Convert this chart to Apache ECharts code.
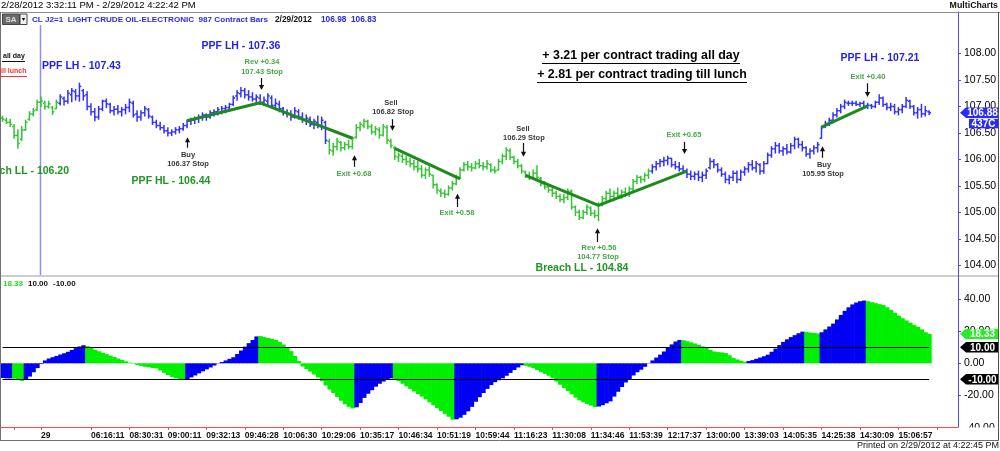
<!DOCTYPE html>
<html><head><meta charset="utf-8">
<script src="https://cdn.jsdelivr.net/npm/echarts@6/dist/echarts.min.js"></script>
<style>html,body{margin:0;padding:0;background:#fff;overflow:hidden}#c{width:1000px;height:451px}</style>
</head><body><div id="c"></div>
<script>
// ---------- DATA ----------
const opens = [106.78,106.74,106.70,106.62,106.45,106.38,106.56,106.76,106.86,106.94,107.08,107.06,107.00,106.98,106.96,107.06,107.15,107.10,107.22,107.28,
107.20,107.30,107.22,107.00,106.90,106.80,106.95,107.10,107.04,106.92,106.95,106.90,106.94,106.98,107.06,106.86,106.80,106.88,106.94,106.80,
106.70,106.64,106.60,106.54,106.50,106.52,106.56,106.58,106.64,106.72,106.74,106.78,106.80,106.84,106.80,106.88,106.90,106.90,106.96,106.98,
107.04,107.20,107.24,107.30,107.22,107.18,107.14,107.16,107.08,107.10,107.16,107.02,107.04,106.96,106.88,106.86,106.80,106.90,106.80,106.74,
106.76,106.66,106.70,106.64,106.70,106.34,106.16,106.24,106.32,106.22,106.28,106.24,106.42,106.60,106.64,106.72,106.62,106.52,106.56,106.46,
106.60,106.34,106.22,106.04,106.06,106.00,105.96,105.92,105.86,105.82,105.70,105.80,105.70,105.52,105.40,105.36,105.34,105.46,105.54,105.66,
105.80,105.90,105.86,105.84,105.92,105.88,105.86,105.90,105.80,105.80,105.96,106.06,106.16,106.04,105.96,105.88,105.76,105.70,105.66,105.74,
105.64,105.54,105.48,105.42,105.36,105.30,105.24,105.28,105.40,105.10,105.00,104.90,105.00,105.08,104.98,104.94,105.14,105.26,105.36,105.30,
105.36,105.32,105.38,105.34,105.44,105.58,105.66,105.62,105.70,105.78,105.86,105.92,105.96,105.98,106.02,105.90,105.86,105.82,105.78,105.72,
105.68,105.72,105.66,105.70,105.84,105.96,105.90,105.80,105.72,105.62,105.66,105.74,105.62,105.76,105.82,105.90,105.84,105.90,105.78,105.92,
106.08,106.20,106.26,106.16,106.20,106.14,106.26,106.38,106.28,106.22,106.10,106.16,106.22,106.40,106.62,106.68,106.74,106.84,106.92,107.00,
107.06,107.06,107.06,107.04,107.06,107.00,107.02,107.00,107.08,107.16,107.04,106.98,107.00,106.90,106.94,107.00,107.10,107.00,106.88,106.94,
106.86,106.90];
const highs = [106.82,106.78,106.76,106.66,106.56,106.62,106.74,106.90,106.96,107.12,107.18,107.10,107.10,107.00,107.12,107.22,107.18,107.30,107.34,107.32,
107.44,107.32,107.28,107.05,106.96,107.00,107.12,107.14,107.06,107.00,107.02,106.98,107.04,107.14,107.10,106.92,106.92,107.00,106.96,106.82,
106.74,106.70,106.64,106.60,106.56,106.60,106.62,106.68,106.74,106.78,106.80,106.84,106.88,106.86,106.92,106.94,106.98,107.00,107.02,107.06,
107.20,107.30,107.36,107.34,107.30,107.26,107.22,107.22,107.18,107.24,107.20,107.14,107.10,106.98,106.94,106.92,106.98,106.94,106.88,106.84,
106.80,106.76,106.82,106.80,106.72,106.38,106.30,106.40,106.34,106.32,106.36,106.42,106.66,106.70,106.76,106.74,106.66,106.62,106.60,106.66,
106.64,106.38,106.24,106.12,106.10,106.06,106.02,105.98,105.96,105.88,105.84,105.86,105.70,105.54,105.44,105.42,105.50,105.58,105.70,105.84,
105.94,105.96,105.92,105.96,106.00,105.94,105.98,105.92,105.86,106.00,106.10,106.22,106.20,106.06,106.00,105.90,105.78,105.76,105.80,105.88,
105.66,105.58,105.52,105.46,105.40,105.34,105.34,105.44,105.42,105.12,105.04,105.04,105.14,105.10,105.04,105.18,105.30,105.40,105.44,105.40,
105.46,105.42,105.46,105.48,105.62,105.70,105.68,105.74,105.82,105.90,105.96,106.00,106.04,106.06,106.02,105.96,105.94,105.88,105.82,105.78,
105.76,105.78,105.76,105.82,106.02,106.00,105.92,105.84,105.76,105.70,105.78,105.78,105.80,105.86,105.94,105.98,105.96,105.92,105.96,106.12,
106.24,106.32,106.30,106.24,106.28,106.30,106.42,106.40,106.34,106.24,106.20,106.26,106.32,106.62,106.72,106.78,106.88,106.96,107.04,107.12,
107.10,107.10,107.10,107.08,107.10,107.06,107.04,107.10,107.22,107.18,107.06,107.06,107.04,106.98,107.04,107.17,107.12,107.02,106.98,107.04,
107.00,106.92];
const lows = [106.72,106.68,106.62,106.40,106.21,106.36,106.55,106.74,106.82,106.93,107.00,106.95,106.97,106.85,106.96,107.03,107.03,107.06,107.09,107.12,
107.10,107.12,106.94,106.84,106.73,106.76,106.92,106.98,106.88,106.84,106.86,106.82,106.86,106.90,106.80,106.72,106.74,106.82,106.78,106.66,
106.60,106.56,106.50,106.44,106.45,106.48,106.50,106.55,106.60,106.66,106.68,106.70,106.74,106.74,106.78,106.82,106.84,106.86,106.88,106.92,
107.02,107.12,107.18,107.16,107.12,107.10,107.08,107.04,107.02,107.04,106.98,106.94,106.90,106.84,106.80,106.74,106.78,106.76,106.70,106.66,
106.62,106.58,106.60,106.56,106.30,106.10,106.08,106.18,106.16,106.18,106.20,106.20,106.40,106.54,106.60,106.58,106.48,106.46,106.40,106.44,
106.30,106.22,106.00,105.96,105.94,105.90,105.86,105.80,105.76,105.66,105.64,105.68,105.46,105.36,105.30,105.28,105.32,105.42,105.52,105.64,
105.78,105.80,105.78,105.82,105.84,105.80,105.82,105.76,105.74,105.80,105.92,106.00,106.00,105.92,105.84,105.74,105.66,105.62,105.64,105.64,
105.50,105.44,105.38,105.30,105.26,105.20,105.18,105.24,105.06,104.94,104.86,104.88,104.96,104.94,104.90,104.84,105.12,105.22,105.24,105.22,
105.28,105.26,105.30,105.30,105.40,105.54,105.56,105.58,105.64,105.74,105.80,105.86,105.88,105.90,105.86,105.82,105.78,105.74,105.66,105.62,
105.62,105.60,105.58,105.64,105.82,105.84,105.76,105.68,105.56,105.54,105.60,105.56,105.60,105.70,105.76,105.80,105.76,105.72,105.74,105.92,
106.04,106.12,106.12,106.08,106.10,106.12,106.20,106.22,106.16,106.06,106.02,106.10,106.14,106.40,106.60,106.64,106.72,106.80,106.88,106.96,
107.02,107.02,107.02,107.00,106.98,106.96,106.96,106.98,107.04,107.00,106.94,106.92,106.86,106.84,106.88,106.98,106.96,106.84,106.78,106.80,
106.82,106.85];
const closes = [106.76,106.70,106.66,106.45,106.30,106.55,106.70,106.86,106.92,107.08,107.10,107.00,107.05,106.90,107.08,107.18,107.10,107.25,107.30,107.20,
107.38,107.20,107.00,106.90,106.80,106.95,107.10,107.05,106.92,106.95,106.90,106.94,106.98,107.08,106.84,106.80,106.88,106.96,106.82,106.70,
106.64,106.60,106.54,106.50,106.52,106.56,106.58,106.64,106.72,106.74,106.78,106.80,106.84,106.80,106.88,106.90,106.94,106.96,106.98,107.04,
107.16,107.26,107.30,107.22,107.18,107.14,107.18,107.08,107.12,107.20,107.02,107.06,106.96,106.88,106.86,106.80,106.92,106.80,106.74,106.78,
106.66,106.72,106.64,106.74,106.36,106.18,106.24,106.34,106.22,106.28,106.24,106.40,106.60,106.66,106.72,106.62,106.52,106.58,106.46,106.62,
106.36,106.26,106.06,106.08,106.00,105.96,105.92,105.86,105.82,105.70,105.80,105.72,105.52,105.42,105.36,105.34,105.46,105.54,105.66,105.80,
105.90,105.86,105.84,105.92,105.88,105.86,105.92,105.80,105.78,105.96,106.06,106.18,106.04,105.96,105.88,105.78,105.70,105.66,105.74,105.66,
105.54,105.48,105.42,105.36,105.30,105.24,105.28,105.40,105.10,105.00,104.90,105.00,105.10,104.98,104.94,105.14,105.26,105.36,105.30,105.36,
105.32,105.38,105.34,105.44,105.58,105.66,105.62,105.70,105.78,105.86,105.92,105.96,105.98,106.02,105.90,105.86,105.82,105.78,105.72,105.68,
105.72,105.66,105.70,105.78,105.96,105.90,105.80,105.72,105.62,105.66,105.74,105.62,105.76,105.82,105.90,105.84,105.92,105.78,105.92,106.08,
106.20,106.26,106.16,106.20,106.14,106.26,106.38,106.28,106.22,106.10,106.16,106.22,106.28,106.60,106.68,106.74,106.84,106.92,107.00,107.08,
107.06,107.06,107.04,107.06,107.00,107.02,107.00,107.08,107.16,107.04,106.98,107.00,106.90,106.94,107.00,107.12,107.00,106.88,106.94,106.86,
106.92,106.88];
// bar colour state: from bar index on, g = green, b = blue
const priceColorBreaks = [[0,'g'],[15,'b'],[85,'g'],[169,'b']];

const oscValues = [-9.2,-9.4,-9.4,-9.6,-10.2,-11.0,-10.4,-8.3,-5.6,-3.0,-0.5,
1.8,3.0,3.8,4.6,5.5,6.3,7.2,8.3,9.5,10.5,11.3,
10.8,9.6,8.5,7.5,6.6,5.7,4.8,3.9,3.0,2.1,1.2,
0.4,-0.3,-1.0,-1.6,-2.2,-2.5,-2.9,-3.2,-4.5,-6.0,-7.4,-8.5,-9.4,-10.0,-10.4,
-10.0,-8.8,-7.6,-6.3,-5.0,-3.8,-2.6,-1.4,-0.2,
0.8,1.8,2.8,3.8,5.8,8.0,10.4,12.6,14.6,16.8,
17.0,16.4,15.8,15.2,14.6,13.4,11.8,10.0,7.6,4.6,1.4,
-2.0,-3.6,-5.2,-7.0,-8.8,-11.2,-13.8,-16.4,-18.6,-21.0,-23.4,-25.6,-27.2,-28.2,
-27.5,-24.8,-21.6,-19.0,-16.8,-14.6,-12.8,-11.4,-10.2,-9.4,
-10.2,-11.2,-12.8,-14.4,-16.0,-17.6,-19.2,-20.8,-22.6,-24.4,-26.2,-28.0,-29.8,-31.6,-33.4,-35.2,
-35.0,-34.0,-32.2,-30.0,-27.2,-24.0,-21.2,-18.6,-16.0,-13.6,-11.8,-10.6,
-9.4,-7.8,-6.0,-4.2,-2.6,-1.2,
-1.5,-2.2,-3.0,-4.2,-5.4,-6.6,-7.8,-9.4,-11.4,-13.4,-15.4,-17.4,-19.4,-21.4,-23.2,-24.4,-25.4,-26.4,-27.4,
-27.0,-26.2,-25.0,-23.8,-20.8,-17.8,-14.8,-12.0,-9.8,-7.6,-5.6,-4.0,-2.2,-0.2,1.8,3.6,5.4,7.4,9.6,11.8,13.6,14.6,
14.4,13.8,13.1,12.4,11.6,10.6,9.6,8.4,7.4,7.0,6.8,6.4,5.0,3.4,2.4,1.6,1.0,
1.4,2.0,2.8,3.6,4.4,5.4,7.2,9.2,11.4,13.4,15.0,16.4,17.6,18.8,19.8,
19.6,19.2,18.9,18.7,
19.4,21.2,23.0,24.8,27.4,30.2,32.8,35.0,36.8,38.0,38.8,39.2,
38.8,38.2,37.6,37.0,36.4,35.0,33.4,31.6,29.8,28.2,26.8,25.4,24.0,22.8,21.2,19.4,18.33];
const oscColorBreaks = [[0,'b'],[3,'g'],[6,'b'],[22,'g'],[48,'b'],[67,'g'],[92,'b'],[102,'g'],[118,'b'],[136,'g'],[155,'b'],[177,'g'],[194,'b'],[209,'g'],[213,'b'],[225,'g']];
const oscLevels = [10, -10];

const tickBars   = [3,10,23,33,43,53,63,73,83,93,103,113,123,133,143,153,163,173,183,193,203,213,223,233,243];
const tickLabels = ['','29','06:16:11','08:30:31','09:00:11','09:32:13','09:46:28','10:06:30','10:29:06','10:35:17','10:46:34','10:51:19',
'10:59:44','11:16:23','11:30:08','11:34:46','11:53:39','12:17:37','13:00:00','13:39:03','14:05:35','14:25:38','14:30:09','15:06:57',''];
const priceTicks = [104,104.5,105,105.5,106,106.5,107,107.5,108];
const oscTicks = [-20,0,20,40];
const oscClippedTick = -40;

const trendLines = [
  [[48,106.73],[67,107.07],[91,106.40]],
  [[102,106.21],[119,105.63]],
  [[136,105.70],[155,105.13],[178,105.78]],
  [[213,106.61],[225,107.01]]
];
const lastPrice = 106.88, lastOsc = 18.33, sessionBreakBar = 10;

// ---------- STYLE ----------
const C = {
  barBlue:'#3232ff', barGreen:'#34c434', histBlue:'#0000f4', histGreen:'#00f000',
  trend:'#1e8a1e', blueTxt:'#2222f0', greenBold:'#1f961f', greenSmall:'#45a845', gray:'#3a3a3a'
};
const NCAT = 249;
const cats = Array.from({length:NCAT}, (_, i) => String(i));
const labelMap = new Map(tickBars.map((b, k) => [b, tickLabels[k]]));
const tickSet = new Set(tickBars);
function segColor(breaks, i, map) { let c = breaks[0][1]; for (const [s, col] of breaks) if (i >= s) c = col; return map[c]; }

const chart = echarts.init(document.getElementById('c'), null, {renderer:'canvas'});
const FONT = '"Liberation Sans", Arial, sans-serif';

const ohlcData = opens.map((o, i) => [i, o, highs[i], lows[i], closes[i]]);
const oscData = oscValues.map((v, i) => [i, v]);

const option = {
  animation: false,
  grid: [
    {left: 0.6, top: 12, width: 957.4, height: 263},
    {left: 0.6, top: 277, width: 957.4, height: 150}
  ],
  xAxis: [
    {type:'category', gridIndex:0, data:cats, boundaryGap:true, show:false},
    {type:'category', gridIndex:1, data:cats, boundaryGap:true, position:'bottom',
     axisLine:{show:true, onZero:false, lineStyle:{color:'#ff4a4a', width:1}},
     axisTick:{show:true, alignWithLabel:true, length:3, interval:(idx)=>tickSet.has(idx), lineStyle:{color:'#ff4a4a'}},
     axisLabel:{show:true, interval:(idx)=>labelMap.has(idx) && labelMap.get(idx)!=='', formatter:(v)=>labelMap.get(Number(v))||'',
       align:'left', margin:4, fontSize:8.5, fontWeight:'bold', fontFamily:FONT, color:'#111'},
     splitLine:{show:false}}
  ],
  yAxis: [
    {type:'value', gridIndex:0, position:'right', min:103.815, max:108.786,
     axisLine:{show:true, lineStyle:{color:'#4a4aff', width:1}},
     axisTick:{show:true, customValues:priceTicks, length:3, lineStyle:{color:'#4a4aff'}},
     axisLabel:{customValues:priceTicks, formatter:(v)=>v.toFixed(2), color:'#000', fontSize:10.5, fontFamily:FONT, margin:6},
     splitLine:{show:false}},
    {type:'value', gridIndex:1, position:'right', min:-39.81, max:53.94,
     axisLine:{show:true, lineStyle:{color:'#4a4aff', width:1}},
     axisTick:{show:true, customValues:oscTicks, length:3, lineStyle:{color:'#4a4aff'}},
     axisLabel:{customValues:oscTicks, formatter:(v)=>v.toFixed(2), color:'#000', fontSize:10.5, fontFamily:FONT, margin:6},
     splitLine:{show:false}}
  ],
  series: [
    {type:'custom', xAxisIndex:0, yAxisIndex:0, data:ohlcData, encode:{x:0, y:[1,2,3,4]}, clip:true, z:3,
     renderItem:(params, api) => {
       const i = api.value(0);
       const ph = api.coord([i, api.value(2)]), pl = api.coord([i, api.value(3)]);
       const po = api.coord([i, api.value(1)]), pc = api.coord([i, api.value(4)]);
       const col = segColor(priceColorBreaks, i, {b:C.barBlue, g:C.barGreen});
       const w = 1.9, st = {stroke:col, lineWidth:1.5};
       return {type:'group', children:[
         {type:'line', shape:{x1:ph[0], y1:ph[1]-0.5, x2:pl[0], y2:pl[1]+0.5}, style:st},
         {type:'line', shape:{x1:po[0]-w, y1:po[1], x2:po[0], y2:po[1]}, style:st},
         {type:'line', shape:{x1:pc[0], y1:pc[1], x2:pc[0]+w, y2:pc[1]}, style:st}
       ]};
     }},
    ...trendLines.map(tl => ({type:'line', xAxisIndex:0, yAxisIndex:0, data:tl, symbol:'none', z:5,
      lineStyle:{color:C.trend, width:3}, silent:true})),
    {type:'custom', xAxisIndex:1, yAxisIndex:1, data:oscData, encode:{x:0, y:1}, clip:true, z:3,
     renderItem:(params, api) => {
       const i = api.value(0), v = api.value(1);
       const p0 = api.coord([i, 0]), p1 = api.coord([i, v]);
       const w = api.size([1, 0])[0];
       const col = segColor(oscColorBreaks, i, {b:C.histBlue, g:C.histGreen});
       return {type:'rect', shape:{x:p0[0]-w/2, y:Math.min(p0[1],p1[1]), width:w+0.6, height:Math.abs(p1[1]-p0[1])},
               style:{fill:col}};
     }},
    {type:'line', xAxisIndex:1, yAxisIndex:1, data:[], z:6, silent:true,
     markLine:{silent:true, symbol:['none','none'], label:{show:false}, lineStyle:{color:'#000', width:1, type:'solid'},
       data: oscLevels.map(l => [{coord:[0, l]}, {coord:[oscValues.length-1, l]}])}}
  ]
};
chart.setOption(option);

// ---------- ANNOTATIONS (anchored through the chart's scales) ----------
function P(g, i, v) {
  const i0 = Math.floor(i), f = i - i0;
  const a = chart.convertToPixel({gridIndex:g}, [i0, v]);
  const b = chart.convertToPixel({gridIndex:g}, [i0 + 1, v]);
  return [a[0] + (b[0] - a[0]) * f, a[1]];
}
const G = [];
function txt(x, y, t, fill, font, align, z) {
  G.push({type:'text', z: z||100, x, y, style:{text:t, fill, font, align: align||'left', textAlign: align||'left', verticalAlign:'middle', textVerticalAlign:'middle'}});
}
function ln(x1, y1, x2, y2, stroke, w, z) {
  G.push({type:'line', z: z||100, shape:{x1,y1,x2,y2}, style:{stroke, lineWidth: w||1}});
}
function poly(pts, fill, z) { G.push({type:'polygon', z: z||100, shape:{points:pts}, style:{fill}}); }

const fB = (s)=>'bold ' + s + 'px ' + FONT;
const fR = (s)=>s + 'px ' + FONT;

const notes = [
  ['PPF LH - 107.43', 20.54, 107.77, C.blueTxt, 10.5, 'center'],
  ['PPF LH - 107.36', 62.02, 108.14, C.blueTxt, 10.5, 'center'],
  ['Rev +0.34', 67.49, 107.84, C.greenSmall, 7.5, 'center'],
  ['107.43 Stop', 67.49, 107.65, C.greenSmall, 7.5, 'center'],
  ['Buy', 48.24, 106.08, C.gray, 7.5, 'center'],
  ['106.37 Stop', 48.24, 105.91, C.gray, 7.5, 'center'],
  ['PPF HL - 106.44', 43.82, 105.59, C.greenBold, 10.5, 'center'],
  ['Breach LL - 106.20', 17.29, 105.78, C.greenBold, 10.5, 'right'],
  ['Sell', 101.03, 107.07, C.gray, 7.5, 'center'],
  ['106.82 Stop', 101.55, 106.90, C.gray, 7.5, 'center'],
  ['Exit +0.68', 91.41, 105.72, C.greenSmall, 7.5, 'center'],
  ['Exit +0.58', 118.2, 104.99, C.greenSmall, 7.5, 'center'],
  ['Sell', 135.36, 106.57, C.gray, 7.5, 'center'],
  ['106.29 Stop', 135.6, 106.40, C.gray, 7.5, 'center'],
  ['Exit +0.65', 177.24, 106.46, C.greenSmall, 7.5, 'center'],
  ['Rev +0.56', 155.13, 104.33, C.greenSmall, 7.5, 'center'],
  ['104.77 Stop', 154.87, 104.16, C.greenSmall, 7.5, 'center'],
  ['Breach LL - 104.84', 150.71, 103.95, C.greenBold, 10.5, 'center'],
  ['PPF LH - 107.21', 228.21, 107.92, C.blueTxt, 10.5, 'center'],
  ['Exit +0.40', 225.09, 107.56, C.greenSmall, 7.5, 'center'],
  ['Buy', 213.65, 105.89, C.gray, 7.5, 'center'],
  ['105.95 Stop', 213.4, 105.72, C.gray, 7.5, 'center']
];
notes.forEach(([t, i, p, col, s, al]) => { const q = P(0, i, p); txt(q[0], q[1], t, col, fB(s), al); });

// arrows: [bar, tail price, tip price]
const arrows = [[67.22,107.54,107.31],[47.98,106.22,106.42],[101.29,106.76,106.54],[91.41,105.86,106.08],[118.2,105.10,105.35],
  [135.36,106.31,106.05],[177.23,106.33,106.10],[154.61,104.44,104.70],[224.83,107.44,107.18],[213.13,106.03,106.25]];
arrows.forEach(([i, p1, p2]) => {
  const a = P(0, i, p1), b = P(0, i, p2);
  const x = Math.round(a[0]) + 0.5, dir = b[1] > a[1] ? 1 : -1;
  ln(x, a[1], x, b[1] - dir * 3, '#111', 1.2);
  poly([[x - 2.6, b[1] - dir * 5], [x + 2.6, b[1] - dir * 5], [x, b[1]]], '#111');
});

// session break line
{ const a = P(0, sessionBreakBar, 108.5); const x = Math.round(a[0]) - 0.5;
  G.push({type:'line', z:1, shape:{x1:x, y1:25, x2:x, y2:275}, style:{stroke:'#8f8ff0', lineWidth:1.5}}); }

// clipped "-40.00" label at the bottom of the lower pane
{ const y = P(1, 0, oscClippedTick)[1];
  G.push({type:'text', z:60, x:965, y:y + 1, style:{text:oscClippedTick.toFixed(2), fill:'#000', font:fR(10.5), align:'left', textAlign:'left', verticalAlign:'middle', textVerticalAlign:'middle'}});
  G.push({type:'rect', z:61, shape:{x:959.5, y:427.5, width:38.5, height:12.5}, style:{fill:'#fff'}}); }

// frame
ln(0, 12.5, 1000, 12.5, '#8c8c8c', 1, 50);
ln(0.5, 12, 0.5, 440, '#707070', 1, 70);
ln(998.5, 12, 998.5, 440, '#505050', 1, 70);
ln(0, 276, 998, 276, '#9a9a9a', 1, 50);
ln(0, 440.5, 999, 440.5, '#707070', 1, 70);
ln(958.5, 274, 958.5, 278, '#4a4aff', 1, 50);

// top texts
txt(1, 5.5, '2/28/2012 3:32:11 PM - 2/29/2012 4:22:42 PM', '#000', fR(9.5));
txt(998, 6, 'MultiCharts', '#111', fB(8.8), 'right');
txt(999, 446, 'Printed on 2/29/2012 at 4:22:45 PM', '#111', fR(9), 'right');

// SA button & header
G.push({type:'rect', z:100, shape:{x:2.5, y:14, width:17, height:10.5}, style:{fill:'#6a6a6a', stroke:'#444', lineWidth:1}});
txt(11, 19.3, 'SA', '#dcdcdc', fB(8), 'center');
G.push({type:'rect', z:100, shape:{x:20, y:14, width:7, height:10.5}, style:{fill:'#f2f2f2', stroke:'#444', lineWidth:1}});
poly([[21.8,18],[25.2,18],[23.5,21]], '#111');
txt(32, 19.5, 'CL J2=1  LIGHT CRUDE OIL-ELECTRONIC  987 Contract Bars', '#2a2ae8', fB(8.1));
txt(275, 19.5, '2/29/2012', '#111', fB(8.3));
txt(321, 19.5, '106.98  106.83', '#2a2ae8', fB(8.3));

// legend left
txt(3, 56.5, 'all day', '#111', fB(7));
ln(2, 61.5, 25, 61.5, '#111', 1);
txt(-2.3, 71.5, 'till lunch', '#ff3030', fB(7));
ln(0, 76.5, 27, 76.5, '#ff3030', 1);

// profit summary
txt(641, 55.5, '+ 3.21 per contract trading all day', '#000', fB(12.4), 'center');
ln(542, 63.5, 740, 63.5, '#000', 1.2);
txt(642, 74.5, '+ 2.81 per contract trading till lunch', '#000', fB(12.4), 'center');
ln(537, 82.5, 747, 82.5, '#000', 1.2);

// lower header
txt(3, 284, '18.33', '#22dd22', fB(8));
txt(28, 284, '10.00', '#111', fB(8));
txt(53, 284, '-10.00', '#111', fB(8));

// price tags on the axis
function tag(y, label, fill, h) {
  h = h || 10.5;
  poly([[960, y], [966, y - h/2], [998, y - h/2], [998, y + h/2], [966, y + h/2]], fill, 110);
  G.push({type:'text', z:111, x:982.5, y:y+0.5, style:{text:label, fill:'#fff', font:fB(10), align:'center', textAlign:'center', verticalAlign:'middle', textVerticalAlign:'middle'}});
}
{ const y = P(0, opens.length-1, lastPrice)[1]; tag(y, lastPrice.toFixed(2), '#2a2aff');
  poly([[969, y + 6], [998, y + 6], [998, y + 15.5], [969, y + 15.5]], '#2a2aff', 110);
  G.push({type:'text', z:111, x:983.5, y:y+11, style:{text:'437C', fill:'#fff', font:fB(10), align:'center', textAlign:'center', verticalAlign:'middle', textVerticalAlign:'middle'}}); }
{ const y = P(1, oscValues.length-1, lastOsc)[1]; tag(y, lastOsc.toFixed(2), '#2ee82e'); }
oscLevels.forEach(l => { const y = P(1, oscValues.length-1, l)[1]; tag(y, l.toFixed(2), '#000'); });

chart.setOption({graphic:{elements:G}});
</script></body></html>
